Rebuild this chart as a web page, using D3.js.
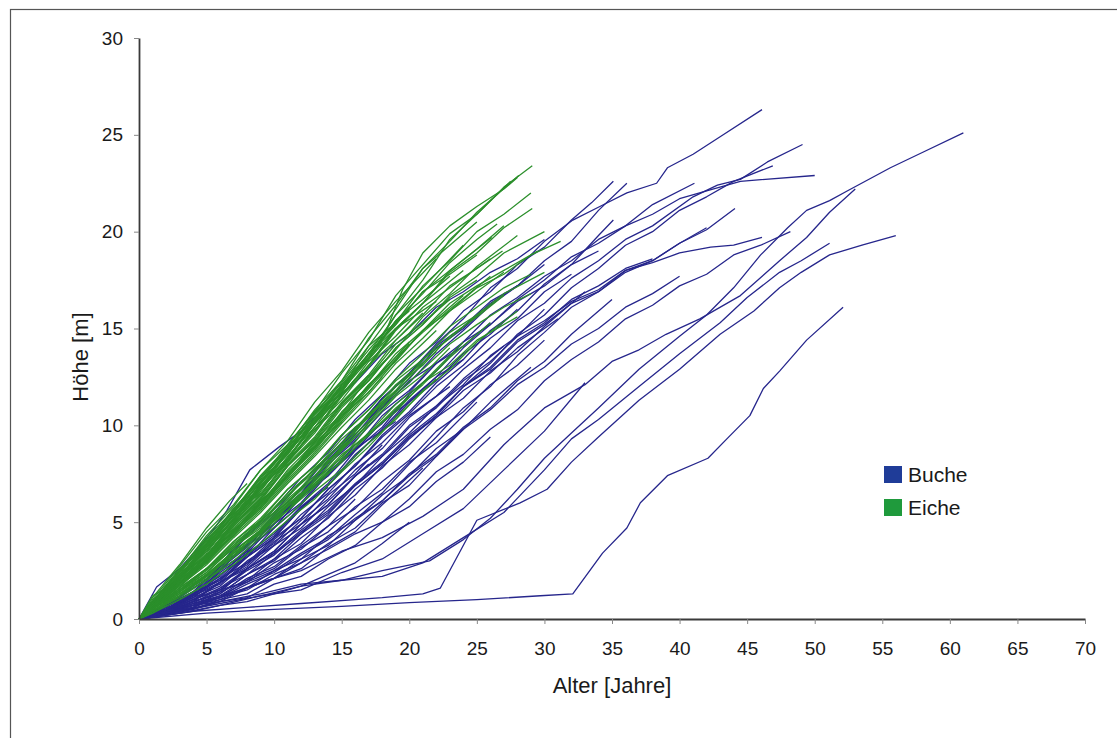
<!DOCTYPE html>
<html>
<head>
<meta charset="utf-8">
<script src="https://cdn.jsdelivr.net/npm/d3@7"></script>
<style>
  html, body { margin: 0; padding: 0; background: #ffffff; }
  svg { display: block; font-family: "Liberation Sans", Arial, sans-serif; }
</style>
</head>
<body>
<svg id="chart" width="1117" height="738"></svg>
<script>
// Höhenentwicklung einzelner Bäume: jede Kurve als flache Liste [Alter, Höhe, Alter, Höhe, ...]
const buchePfade = [
  [0,0, 2,0.7, 4,1.4, 6,2.7, 8,3.8, 10,5.3, 12,6.5, 14,8.2, 16,9.7, 18,11.4, 20,12.7, 22,14.2, 24,15.5, 26,17.1, 28,18.1, 30,19.5, 32.1,20.6, 34.1,21.3, 36.1,22.0, 38.3,22.5, 39.1,23.3, 41,24.0, 43,24.9, 46.1,26.3],
  [0,0, 2,0.4, 4,1.1, 6,1.7, 8,2.9, 10,3.8, 12,5.1, 14,6.2, 16,7.7, 18,8.8, 20,10.4, 22,11.5, 24,12.9, 26,14.0, 28,15.4, 30,16.3, 32,17.6, 34,18.5, 36,19.6, 38,20.3, 41,21.8, 42.8,22.4, 44.5,22.7, 46.5,23.6, 49.1,24.5],
  [0,0, 2,0.5, 4,1.3, 6,2.0, 8,3.2, 10,4.2, 12,5.7, 14,6.9, 16,8.4, 18,9.8, 20,11.3, 22,12.5, 24,14.0, 26,15.2, 28,16.5, 30,17.5, 32,18.7, 34,19.4, 36,20.3, 38,20.9, 40,21.7, 42,22.1, 44.5,22.6, 50,22.9],
  [0,0, 2,0.3, 4,0.9, 6,1.3, 8,2.3, 10,3.0, 12,4.2, 14,5.2, 16,6.7, 18,7.8, 20,9.3, 22,10.5, 24,12.0, 26,13.2, 28,14.7, 30,15.7, 32,17.1, 34,18.1, 36,19.3, 38,20.0, 40,21.1, 42,21.8, 44,22.6, 46.9,23.4],
  [0,0, 2,0.5, 4,1.2, 6,2.4, 8,3.4, 10,4.9, 12,6.0, 14,7.6, 16,8.8, 18,10.5, 20,11.7, 22,13.2, 24,14.3, 26,15.7, 28,16.6, 30,17.7, 32,18.5, 34,19.6, 36,20.3, 38,21.4, 41.1,22.5],
  [0,0, 2,0.6, 4,1.7, 6,2.8, 8,4.4, 10,5.7, 12,7.3, 14,8.6, 16,10.3, 18,11.6, 20,13.2, 22,14.3, 24,15.9, 26,16.9, 28,18.3, 30,19.2, 32,20.6, 33.5,21.5, 35.1,22.6],
  [0,0, 2,0.5, 4,1.3, 6,2.6, 8,3.7, 10,5.2, 12,6.5, 14,8.1, 16,9.3, 18,11.0, 20,12.2, 22,13.7, 24,14.9, 26,16.2, 28,17.2, 30,18.5, 32,19.5, 34,21.1, 36.1,22.5],
  [0,0, 2,0.4, 4,1.0, 6,1.5, 8,2.5, 10,3.3, 12,4.5, 14,5.5, 16,6.9, 18,8.0, 20,9.4, 22,10.5, 24,12.0, 26,12.9, 28,14.3, 30,15.2, 32,16.3, 34,16.9, 36,17.9, 38,18.5, 40,19.4, 42,20.1, 44.1,21.2],
  [0,0, 2,0.3, 4,0.9, 6,1.4, 8,2.6, 10,3.5, 12,4.9, 14,5.9, 16,7.4, 18,8.4, 20,9.9, 22,10.9, 24,12.3, 26,13.3, 28,14.6, 30,15.4, 32,16.4, 34,17.0, 36,18.0, 38,18.5, 40,19.4, 42,20.2],
  [0,0, 2,0.3, 4,0.8, 6,1.2, 8,1.9, 10,2.5, 12,3.4, 14,4.2, 16,5.4, 18,6.5, 20,8.0, 22,9.4, 24,10.9, 26,12.0, 28,13.6, 30,14.8, 32,16.1, 34,16.9, 36,18.0, 38,18.4, 40,18.9, 42.3,19.2, 44,19.3, 46.1,19.7],
  [0,0, 2,0.3, 4,0.7, 6,1.0, 8,1.6, 10,2.1, 12,2.9, 14,3.6, 16,4.4, 18,5.0, 20,6.2, 22,7.6, 24,8.5, 26,9.8, 28,10.8, 30,12.3, 32,13.4, 34,14.3, 36,15.5, 38,16.2, 40,17.2, 42,17.8, 44,18.8, 46,19.3, 48.2,20.0],
  [0,0, 2,0.5, 4,1.1, 6,2.1, 8,2.9, 10,4.2, 12,5.2, 14,6.7, 16,7.9, 18,9.5, 20,10.7, 22,12.2, 24,13.4, 26,14.9, 28,15.9, 30,17.3, 32,18.3, 34,19.8, 35.1,20.6],
  [0,0, 3,0.4, 6,0.8, 9,1.2, 12,1.7, 15,2.0, 18,2.5, 21.5,3.0, 24,4.1, 26,5.2, 28,6.7, 30,8.3, 32,9.6, 34,10.9, 37,12.9, 40,14.6, 42,15.7, 44,17.1, 46,18.8, 48,20.2, 49.4,21.1, 51.1,21.6, 52.4,22.1, 55.6,23.3, 58,24.1, 61,25.1],
  [0,0, 3,0.5, 6,1.1, 9,1.9, 12,2.5, 15,3.5, 18,4.2, 21,5.3, 24,6.7, 27,9.0, 30,10.9, 33,12.1, 35,13.3, 37,13.9, 39,14.7, 41.5,15.5, 44.5,16.7, 47.4,18.5, 49.4,19.7, 51.1,21.0, 53,22.2],
  [0,0, 3,0.4, 6,0.9, 9,1.3, 12,1.8, 15,2.0, 18,2.2, 21,2.9, 24,4.2, 27,5.5, 30,7.7, 32,9.3, 34,10.3, 37,12.0, 40,13.7, 43,15.3, 45,16.6, 47.4,17.9, 49,18.5, 51.1,19.4],
  [0,0, 4,0.4, 8,0.6, 12,0.8, 16,1.0, 18,1.1, 21,1.3, 22.3,1.6, 25,5.1, 28.2,6.0, 30.2,6.7, 32,8.1, 34,9.4, 37,11.3, 40,12.9, 43,14.7, 45.5,15.9, 47.4,17.1, 49,17.9, 51.1,18.8, 53.5,19.3, 56,19.8],
  [0,0, 5,0.3, 10,0.5, 15,0.65, 20,0.85, 25,1.0, 29.7,1.2, 32.1,1.3, 34.3,3.4, 36.1,4.7, 37.1,6.0, 39.1,7.4, 42.1,8.3, 43.5,9.3, 45.2,10.5, 46.2,11.9, 47.4,12.8, 49.4,14.4, 52.1,16.1],
  [0,0, 1.3,1.65, 3,2.6, 4.3,3.6, 5.5,4.6, 6.5,5.6, 8.2,7.7, 10.4,8.9, 12,9.7, 14,11.1, 16,12.2, 18,13.7, 20,14.7, 22,16.1, 24,16.9, 26,17.9, 28,18.6, 30,19.6],
  [0,0, 2,0.5, 4,1.3, 6,2.0, 8,3.3, 10,4.3, 12,5.8, 14,7.0, 16,8.7, 18,9.9, 20,11.6, 22,12.8, 24,14.3, 26,15.2, 28,16.4, 30,17.2, 32,18.3, 34,19.0],
  [0,0, 2,0.4, 4,0.9, 6,1.9, 8,2.8, 10,4.1, 12,5.2, 14,6.7, 16,7.9, 18,9.4, 20,10.6, 22,12.0, 24,13.1, 26,14.5, 28,15.5, 30,16.9, 32,17.8],
  [0,0, 2,0.6, 4,1.4, 6,2.7, 8,3.8, 10,5.4, 12,6.7, 14,8.4, 16,9.8, 18,11.4, 20,12.6, 22,14.1, 24,15.1, 26,16.4, 28,17.2, 30,18.3],
  [0,0, 2,0.4, 4,1.2, 6,1.9, 8,3.2, 10,4.2, 12,5.7, 14,6.9, 16,8.5, 18,9.7, 20,11.2, 22,12.3, 24,13.7, 26,14.7, 28,16.0],
  [0,0, 2,0.5, 4,1.2, 6,2.5, 8,3.5, 10,5.1, 12,6.3, 14,8.0, 16,9.2, 18,10.7, 20,11.8, 22,13.2, 24,14.1, 26,15.3],
  [0,0, 2,0.3, 4,0.9, 6,1.3, 8,2.3, 10,3.1, 12,4.4, 14,5.4, 16,6.9, 18,8.0, 20,9.4, 22,10.4, 24,11.8, 26,12.7, 28,14.0, 31,15.5],
  [0,0, 2,0.5, 4,1.1, 6,2.3, 8,3.2, 10,4.7, 12,5.9, 14,7.5, 16,8.7, 18,10.2, 20,11.2, 22,12.5, 24,13.4],
  [0,0, 2,0.6, 4,1.7, 6,2.7, 8,4.3, 10,5.5, 12,7.1, 14,8.3, 16,9.9, 18,10.9, 20,12.3, 22,13.2],
  [0,0, 2,0.3, 4,0.6, 6,1.4, 8,2.0, 10,3.1, 12,3.9, 14,5.3, 16,6.4, 18,7.9, 20,9.0, 22,10.4, 24,11.4, 26,12.8, 28,13.8, 30,15.1, 33,16.9],
  [0,0, 2,0.4, 4,1.0, 6,1.5, 8,2.6, 10,3.5, 12,4.9, 14,5.9, 16,7.4, 18,8.5, 20,10.0, 22,11.0, 24,12.4, 27,14.1],
  [0,0, 2,0.5, 4,1.4, 6,2.2, 8,3.6, 10,4.7, 12,6.3, 14,7.4, 16,9.0, 18,10.1, 20,11.5],
  [0,0, 2,0.4, 4,0.9, 6,1.9, 8,2.7, 10,4.0, 12,4.9, 14,6.4, 16,7.5, 18,9.0],
  [0,0, 2,0.3, 4,0.6, 6,1.2, 8,1.6, 10,2.5, 12,3.1, 14,4.3, 16,5.1, 18,6.4, 20,7.4, 22,8.8, 24,9.8, 26,11.2, 29,13.0],
  [0,0, 2,0.3, 4,0.8, 6,1.1, 8,2.0, 10,2.6, 12,3.7, 14,4.5, 16,5.8, 18,6.7, 20,8.1, 22,9.1, 25,11.2],
  [0,0, 2,0.4, 4,0.7, 6,1.5, 8,1.9, 10,2.9, 12,3.6, 14,4.8, 16,5.7, 18,7.1, 20,8.2, 22,9.7, 24,10.7, 26,12.1, 28,13.1, 30,14.4],
  [0,0, 2,0.5, 4,1.2, 6,1.8, 8,3.0, 10,3.9, 12,5.4, 14,6.5, 16,8.0, 18,9.1, 20,10.5, 23,12.0],
  [0,0, 2,0.3, 4,0.8, 6,1.2, 8,2.1, 10,2.7, 12,3.8, 14,4.8, 16,6.2],
  [0,0, 2,0.3, 4,0.5, 6,1.0, 8,1.3, 10,2.1, 12,2.6, 14,3.7, 16,4.5, 18,5.9, 21,7.8],
  [0,0, 2,0.2, 4,0.5, 6,0.9, 8,1.1, 10,1.8, 12,2.2, 14,3.1, 16,3.8, 18,5.0, 20,5.8, 22,7.1, 24,8.1, 26,9.4],
  [0,0, 3,0.3, 6,0.7, 9,1.2, 12,1.5, 15,2.4, 18,3.1, 21,4.4, 24,5.7, 27,7.7, 30,9.7, 33,12.2],
  [0,0, 2,0.6, 4,1.6, 6,2.5, 8,3.9, 10,4.9, 12,6.4, 14,7.4, 16,8.8, 19,10.2],
  [0,0, 2,0.5, 4,1.2, 6,2.5, 8,3.5, 10,5.1, 12,6.4, 14,8.1, 16,9.5, 18,11.1, 20,12.4, 22,14.0, 24,15.0, 26,16.3, 28,17.2],
  [0,0, 2,0.3, 4,0.7, 6,0.9, 8,1.6, 10,2.1, 12,3.1, 14,3.8, 16,5.1, 18,6.1, 20,7.5, 22,8.5, 24,9.9, 26,10.9, 28,12.3, 30,13.3, 32,14.7, 35,16.5],
  [0,0, 2,0.4, 4,1.0, 6,1.6, 8,2.6, 10,3.4, 12,4.6, 14,5.6, 16,7.0, 18,8.1, 20,9.5, 22,10.6, 24,12.0, 26,13.0, 28,14.4, 30,15.3, 32,16.5, 34,17.2, 36,18.1, 38,18.6],
  [0,0, 2,0.3, 4,0.7, 6,1.1, 8,1.8, 10,2.4, 12,3.3, 14,4.1, 16,5.2, 18,6.1, 20,7.4, 22,8.4, 24,9.8, 26,10.8, 28,12.1, 30,13.0, 32,14.2, 34,15.0, 36,16.1, 38,16.8, 40,17.7],
  [0,0, 2,0.5, 4,1.0, 6,1.9, 8,2.6, 10,3.8, 12,4.7, 14,6.1, 17,8.0],
  [0,0, 2,0.5, 4,1.3, 6,2.1, 8,3.4, 10,4.4, 12,5.8, 14,6.8],
  [0,0, 2,0.4, 4,0.8, 6,1.6, 8,2.3, 10,3.4, 12,4.4, 14,5.8, 16,6.9, 18,8.4, 20,9.6, 22,11.0, 24,12.1, 26,13.6, 28,14.6, 30,16.0],
  [0,0, 2,0.3, 4,0.6, 6,1.1, 8,1.5, 10,2.3, 12,2.9, 14,3.9, 16,4.7, 18,6.0, 20,6.9, 22,8.4, 24,9.8],
  [0,0, 2,0.2, 4,0.4, 6,0.7, 8,0.9, 10,1.3, 12,1.7, 14,2.3, 16,2.9, 18,3.9, 20,5.0]
];

const eichePfade = [
  [0,0, 1,0.9, 3,2.6, 5,3.9, 7,5.7, 9,7.2, 11,9.0, 13,10.7, 15,12.7, 17,14.4, 19,16.7, 21,18.3, 23,19.9, 25,20.9, 27,22.3, 29.1,23.4],
  [0,0, 1,0.7, 3,2.1, 5,3.7, 7,5.1, 9,7.0, 11,8.5, 13,10.4, 15,11.9, 17,14.1, 19,16.0, 21,18.1, 23,19.5, 25,21.0, 28.1,22.9],
  [0,0, 1,0.8, 3,2.5, 5,3.8, 7,5.6, 9,7.0, 11,8.7, 13,10.1, 15,12.0, 17,13.5, 19,15.7, 21,17.5, 23,19.6, 25,20.9, 27.5,22.6],
  [0,0, 1,0.6, 3,2.1, 5,3.3, 7,5.0, 9,6.4, 11,8.2, 13,9.7, 15,11.6, 17,13.1, 19,15.0, 21,16.3, 23,17.9, 25,18.9, 27,20.2, 29.1,21.2],
  [0,0, 1,0.7, 3,2.0, 5,3.6, 7,4.9, 9,6.7, 11,8.2, 13,10.1, 15,11.7, 17,13.7, 19,15.2, 21,16.9, 23,18.0, 26.1,19.7],
  [0,0, 1,0.5, 3,1.9, 5,3.1, 7,4.8, 9,6.2, 11,8.0, 13,9.4, 15,11.2, 17,12.6, 19,14.4, 21,15.7, 23,17.2, 25,18.1, 26.9,19.0],
  [0,0, 1,0.6, 3,1.8, 5,3.3, 7,4.5, 9,6.1, 11,7.4, 13,9.1, 15,10.4, 17,12.1, 19,13.3, 21,14.9, 23,15.9, 25,17.1, 27,17.8, 29,18.8, 31.2,19.5],
  [0,0, 1,0.5, 3,1.6, 5,2.6, 7,4.0, 9,5.1, 11,6.7, 13,7.9, 15,9.5, 17,10.8, 19,12.3, 21,13.4, 23,14.8, 25,15.7, 27,16.8, 30,17.9],
  [0,0, 1,0.8, 3,2.2, 5,3.9, 7,5.3, 9,7.1, 11,8.6, 13,10.6, 15,12.3, 17,14.5, 19,16.2, 21,18.1, 23,19.3, 25,20.5],
  [0,0, 1,0.6, 3,2.1, 5,3.4, 7,5.2, 9,6.7, 11,8.6, 13,10.1, 15,12.1, 17,13.7, 19,15.7, 21,17.1, 24,19.3],
  [0,0, 1,0.9, 3,2.5, 5,4.3, 7,5.8, 9,7.7, 11,9.2, 13,11.2, 15,12.8, 17,14.8, 19,16.4, 22,18.6],
  [0,0, 1,0.5, 3,1.5, 5,2.5, 7,3.8, 9,4.9, 11,6.4, 13,7.6, 15,9.1, 17,10.4, 19,12.0, 21,13.1, 23,14.6, 25,15.6, 27,16.7],
  [0,0, 1,0.4, 3,1.2, 5,2.3, 7,3.3, 9,4.5, 11,5.6, 13,7.0, 15,8.1, 17,9.6, 19,10.7, 21,12.2, 23,13.1, 25,14.4, 28,15.6],
  [0,0, 1,0.7, 3,2.1, 5,3.3, 7,4.9, 9,6.2, 11,7.9, 13,9.3, 15,11.1, 17,12.5, 19,14.2, 21,15.3, 23,16.5],
  [0,0, 1,0.8, 3,2.2, 5,3.8, 7,5.1, 9,6.8, 11,8.1, 13,9.9, 15,11.3, 17,13.1, 19,14.4, 21,15.8],
  [0,0, 1,0.6, 3,1.9, 5,3.0, 7,4.6, 9,5.8, 11,7.5, 13,8.8, 15,10.5, 17,11.7, 20,14.2],
  [0,0, 1,0.9, 3,2.5, 5,4.2, 7,5.6, 9,7.4, 11,8.8, 13,10.6, 15,11.9, 17,13.7, 19,15.0],
  [0,0, 1,0.5, 3,1.8, 5,2.9, 7,4.5, 9,5.7, 11,7.4, 13,8.7, 15,10.4, 18,12.8],
  [0,0, 1,0.7, 3,2.0, 5,3.7, 7,5.0, 9,6.8, 11,8.1, 13,9.8, 15,11.1, 17,12.6],
  [0,0, 1,0.5, 3,1.5, 5,2.4, 7,3.7, 9,4.8, 11,6.2, 13,7.4, 16,9.6],
  [0,0, 1,1.0, 3,2.7, 5,4.5, 7,5.9, 9,7.7, 11,9.0, 13,10.7, 15,12.0],
  [0,0, 1,0.6, 3,1.9, 5,3.0, 7,4.6, 9,5.8, 11,7.4, 14,9.6],
  [0,0, 1,0.8, 3,2.2, 5,3.9, 7,5.2, 9,6.9, 12,8.9],
  [0,0, 1,0.7, 3,2.2, 5,3.5, 7,5.2, 8.5,6.1, 10,7.3],
  [0,0, 1,1.1, 3,2.8, 5,4.7, 6.7,6.1, 8,7.0],
  [0,0, 1,0.6, 3,2.0, 5,3.2, 7,4.9, 9,6.2, 11,7.9, 13,9.2, 15,11.0, 17,12.3, 19,14.0, 21,15.2, 23,16.6, 25,17.5],
  [0,0, 1,0.4, 3,1.3, 5,2.1, 7,3.4, 9,4.4, 11,5.8, 13,6.9, 15,8.4, 17,9.6, 19,11.1, 21,12.2, 24,14.3],
  [0,0, 1,0.7, 3,2.0, 5,3.7, 7,5.1, 9,6.9, 11,8.3, 13,10.1, 15,11.5, 17,13.3, 19,14.6, 21,16.1, 23,17.1, 26,18.6],
  [0,0, 1,0.8, 3,2.5, 5,3.9, 7,5.7, 9,7.1, 11,8.9, 13,10.3, 15,12.1, 17,13.4, 19,15.0, 22,16.4],
  [0,0, 1,0.9, 3,2.4, 5,4.1, 7,5.5, 9,7.4, 11,8.9, 13,10.8, 15,12.3, 17,14.1, 20,15.9],
  [0,0, 1,0.6, 3,2.0, 5,3.2, 7,4.9, 9,6.3, 11,8.1, 13,9.6, 15,11.5, 17,13.0, 19,14.9, 21,16.3, 23,18.0, 25,19.1, 27,20.3],
  [0,0, 1,0.5, 3,1.6, 5,3.1, 7,4.3, 9,6.0, 11,7.4, 13,9.2, 15,10.6, 17,12.5, 19,13.9, 21,15.6, 23,16.8, 25,18.2, 28,19.8],
  [0,0, 1,0.7, 3,2.3, 5,3.6, 7,5.4, 9,6.8, 11,8.7, 13,10.2, 15,12.1, 17,13.6, 19,15.4, 21,16.5, 23,17.7],
  [0,0, 1,0.5, 3,1.4, 5,2.6, 7,3.6, 9,5.0, 11,6.0, 13,7.6, 15,8.8, 17,10.5, 19,11.7, 21,13.2],
  [0,0, 1,0.6, 3,2.0, 5,3.2, 7,4.8, 9,6.1, 11,7.9, 13,9.3, 15,11.1, 17,12.4, 19,13.9],
  [0,0, 1,0.8, 3,2.3, 5,4.1, 7,5.5, 9,7.3, 11,8.7, 13,10.5, 15,11.9, 18,14.3],
  [0,0, 1,0.3, 3,1.2, 5,2.0, 7,3.2, 9,4.3, 11,5.6, 13,6.8, 15,8.2, 17,9.5, 19,10.9, 21,12.1, 23,13.5, 26,15.3],
  [0,0, 1,0.6, 3,1.9, 5,3.0, 7,4.6, 9,5.9, 11,7.7, 13,9.1, 15,10.9, 17,12.3, 19,14.0, 21,15.2, 23,16.7, 25,17.7, 27,18.9, 30,20.0],
  [0,0, 1,0.7, 3,2.1, 5,3.8, 7,5.1, 9,6.9, 11,8.3, 13,10.2, 15,11.7, 17,13.7, 19,15.3, 21,17.2, 23,18.5, 25,20.0, 27,20.9, 29,22.0],
  [0,0, 1,0.6, 3,2.1, 5,3.3, 7,5.0, 9,6.4, 11,8.2, 13,9.7, 15,11.6, 17,13.1, 19,15.0, 21,16.3, 24,18.0],
  [0,0, 1,0.4, 3,1.4, 5,2.3, 7,3.5, 9,4.5, 11,5.8, 13,7.0],
  [0,0, 1,0.9, 3,2.4, 5,4.1, 7,5.3, 9,6.9, 11,8.0],
  [0,0, 1,0.4, 3,1.2, 5,2.3, 7,3.2, 9,4.6, 11,5.6, 13,7.2, 15,8.3, 17,10.0],
  [0,0, 1,0.5, 3,1.5, 5,2.6, 7,3.9, 9,5.0, 11,6.5, 13,7.7, 15,9.3, 17,10.5, 19,12.1, 22,13.8],
  [0,0, 1,0.8, 3,2.2, 5,3.9, 7,5.3, 9,7.1, 11,8.5, 13,10.3, 15,11.8, 17,13.7, 19,15.2, 21,16.9, 23,17.8, 25,18.8],
  [0,0, 1,0.5, 3,1.6, 5,2.6, 7,4.0, 9,5.2, 11,6.7, 13,7.9, 15,9.5, 17,10.8, 19,12.4, 21,13.7, 23,15.1, 25,16.1, 27,17.1, 29,17.8],
  [0,0, 1,0.4, 3,1.3, 5,2.3, 7,3.5, 9,4.6, 11,5.9, 13,7.0, 15,8.5, 17,9.5, 20,11.5],
  [0,0, 1,0.8, 3,2.5, 5,3.8, 7,5.4, 9,6.5],
  [0,0, 1,0.6, 3,1.8, 5,3.3, 7,4.5, 9,6.1, 11,7.3, 13,8.9, 15,10.2],
  [0,0, 1,0.5, 3,1.4, 5,2.4, 7,3.7, 9,4.7, 11,6.1, 13,7.3, 15,8.8, 17,10.0, 19,11.5, 21,12.6, 23,14.0],
  [0,0, 1,0.4, 3,1.1, 5,2.0, 7,3.0, 9,4.2, 11,5.3, 13,6.6, 15,7.7, 17,9.1, 19,10.3, 21,11.8, 23,12.9, 25,14.3, 28,15.9],
  [0,0, 1,0.3, 3,1.0, 5,1.8, 7,2.8, 9,3.9, 11,5.1, 13,6.2, 15,7.6, 17,8.9, 19,10.4, 22,12.4],
  [0,0, 1,0.6, 3,1.9, 5,3.1, 7,4.7, 9,6.0, 11,7.6, 13,8.9, 15,10.7, 17,12.0, 19,13.7, 21,14.9, 23,16.3, 25,17.2, 27,18.0, 29.5,19.0],
  [0,0, 1,0.7, 3,2.2, 5,3.5, 7,5.2, 9,6.6, 11,8.4, 13,9.9, 15,11.8, 17,13.4, 19,15.4, 21,16.8, 23,18.4, 25,19.6, 26.5,20.4],
  [0,0, 1,1.2, 2,1.6, 4,2.9, 6,4.6, 8,6.3, 10,7.8, 12,9.4, 14,10.8, 16,12.4],
  [0,0, 1,0.8, 3,2.4, 5,4.0, 7,5.6, 9,7.3, 11,8.8, 13,10.6, 15,12.2, 17,13.9, 18.3,14.9, 19.5,17.0, 21,18.9, 23,20.3, 25,21.3, 27,22.2, 28,22.8],
  [0,0, 1,0.4, 3,1.2, 5,2.2, 7,3.4, 9,4.4, 11,5.9, 13,7.1, 15,8.7, 17,10.1, 19,11.6, 21,12.9, 23,14.2, 25,15.2, 27,16.1, 29,16.8],
  [0,0, 1,0.5, 3,1.5, 5,2.6, 7,3.8, 9,5.1, 11,6.3, 13,7.8, 15,9.0, 17,10.6, 19,11.8, 21,13.4, 23,14.5, 25.5,16.0],
  [0,0, 1,0.4, 3,1.3, 5,2.2, 7,3.5, 9,4.6, 11,6.0, 13,7.3, 15,8.9, 17,10.2, 19,11.8],
  [0,0, 1,0.6, 3,1.7, 5,2.9, 7,4.3, 9,5.6, 11,7.1, 13,8.5, 15,10.1, 17,11.6, 19,13.2, 21,14.5, 23,15.9, 25,16.9, 27,17.9],
  [0,0, 1,0.5, 3,1.8, 5,3.0, 7,4.4, 9,5.8, 11,7.3, 13,8.8, 15,10.3, 17,11.9, 19,13.4, 21,14.9, 24,16.7],
  [0,0, 1,0.7, 3,1.9, 5,3.2, 7,4.5, 9,6.0, 11,7.4, 13,9.0, 15,10.5, 17,12.1, 19,13.5, 21,14.8, 23,16.0, 26,17.7],
  [0,0, 1,0.6, 3,1.8, 5,3.1, 7,4.6, 9,5.9, 11,7.5, 13,8.9, 15,10.6, 17,12.0, 20,14.3],
  [0,0, 1,0.5, 3,1.7, 5,2.8, 7,4.2, 9,5.5, 11,7.0, 13,8.4, 15,9.9, 17,11.3, 19,12.9, 22,14.9],
  [0,0, 1,0.6, 3,1.8, 5,2.9, 7,4.4, 9,5.7, 11,7.2, 13,8.6, 15,10.2, 18,12.5]
];

const alterTicks = [0, 5, 10, 15, 20, 25, 30, 35, 40, 45, 50, 55, 60, 65, 70];
const hoeheTicks = [0, 5, 10, 15, 20, 25, 30];
const arten = ["Buche", "Eiche"];
const artFarben = { Buche: "#26268c", Eiche: "#2b8f2b" };
const legendeFarben = { Buche: "#1f3c98", Eiche: "#1f9a3c" };

const svg = d3.select("#chart");

// Rahmen um die gesamte Grafik
svg.append("rect")
  .attr("x", 10.5).attr("y", 9.5)
  .attr("width", 1130).attr("height", 760)
  .attr("fill", "none").attr("stroke", "#555").attr("stroke-width", 1.2);

const x = d3.scaleLinear().domain([0, 70]).range([139, 1085]);
const y = d3.scaleLinear().domain([0, 30]).range([619, 38]);

const paare = flach => d3.range(0, flach.length, 2).map(i => [flach[i], flach[i + 1]]);
const linie = d3.line().x(d => x(d[0])).y(d => y(d[1]));

const kurven = svg.append("g").attr("fill", "none").attr("stroke-linejoin", "round");

kurven.append("g")
  .attr("stroke", artFarben.Buche).attr("stroke-width", 1.3)
  .selectAll("path").data(buchePfade).join("path")
  .attr("d", p => linie(paare(p)));

kurven.append("g")
  .attr("stroke", artFarben.Eiche).attr("stroke-width", 1.3)
  .selectAll("path").data(eichePfade).join("path")
  .attr("d", p => linie(paare(p)));

// Achsen
const xAchse = svg.append("g")
  .attr("transform", `translate(0,${y(0)})`)
  .call(d3.axisBottom(x).tickValues(alterTicks).tickSize(5).tickSizeOuter(0).tickPadding(18));
const yAchse = svg.append("g")
  .attr("transform", `translate(${x(0)},0)`)
  .call(d3.axisLeft(y).tickValues(hoeheTicks).tickSize(5).tickSizeOuter(0).tickPadding(11));

[xAchse, yAchse].forEach(a => {
  a.select(".domain").attr("stroke", "#3a3a3a").attr("stroke-width", 1.8);
  a.selectAll(".tick line").attr("stroke", "#888").attr("stroke-width", 1);
  a.selectAll(".tick text")
    .attr("fill", "#1a1a1a")
    .style("font-size", "19px")
    .style("font-family", "'Liberation Sans', Arial, sans-serif");
});

svg.append("text")
  .attr("x", 612).attr("y", 693)
  .attr("text-anchor", "middle")
  .attr("fill", "#1a1a1a")
  .style("font-size", "22px")
  .text("Alter [Jahre]");

svg.append("text")
  .attr("transform", "translate(88,357) rotate(-90)")
  .attr("text-anchor", "middle")
  .attr("fill", "#1a1a1a")
  .style("font-size", "22px")
  .text("Höhe [m]");

// Legende
const legende = svg.append("g");
arten.forEach((art, i) => {
  const zeile = legende.append("g").attr("transform", `translate(884,${466 + i * 33})`);
  zeile.append("rect").attr("width", 18).attr("height", 17).attr("fill", legendeFarben[art]);
  zeile.append("text")
    .attr("x", 24).attr("y", 16)
    .attr("fill", "#1a1a1a")
    .style("font-size", "21px")
    .text(art);
});
</script>
</body>
</html>
